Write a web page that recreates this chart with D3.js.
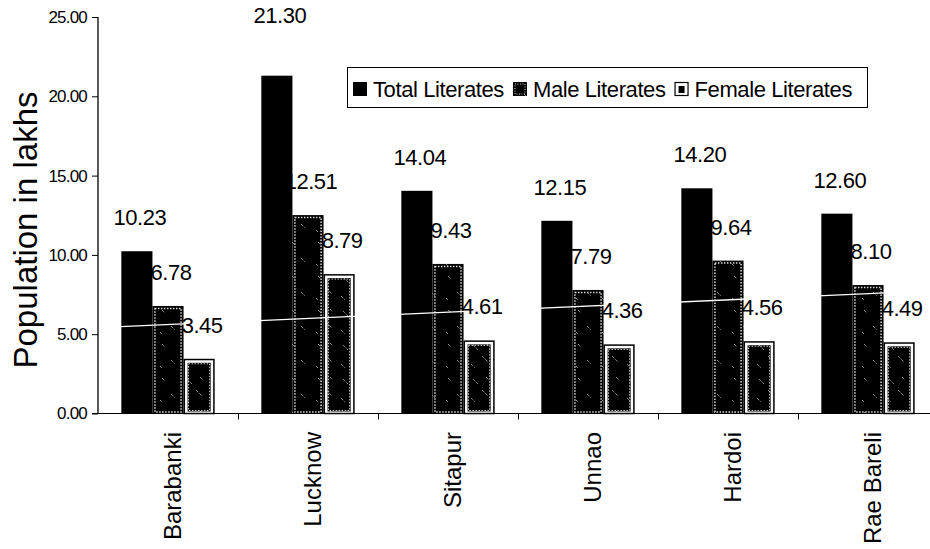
<!DOCTYPE html>
<html>
<head>
<meta charset="utf-8">
<script src="https://cdn.jsdelivr.net/npm/d3@7"></script>
<style>
  html, body { margin: 0; padding: 0; background: #fff; }
  svg { display: block; font-family: Arial, "Liberation Sans", sans-serif; }
</style>
</head>
<body>
<svg id="chart" width="930" height="549"></svg>
<script>
// Literate population by district (in lakhs)
const districts = ["Barabanki", "Lucknow", "Sitapur", "Unnao", "Hardoi", "Rae Bareli"];
const seriesNames = ["Total Literates", "Male Literates", "Female Literates"];
const totalLiterates  = [10.23, 21.30, 14.04, 12.15, 14.20, 12.60];
const maleLiterates   = [6.78, 12.51, 9.43, 7.79, 9.64, 8.10];
const femaleLiterates = [3.45, 8.79, 4.61, 4.36, 4.56, 4.49];
const yTicks = [0, 5, 10, 15, 20, 25];
// linear trend line: value at the first and at the last district
const trendline = [5.52, 7.47];

const seriesValues = [totalLiterates, maleLiterates, femaleLiterates];

const svg = d3.select("#chart");
const W = 930, H = 549;
const plot = { left: 98, right: 938, top: 17, bottom: 413.5 };

const x = d3.scaleBand().domain(districts).range([plot.left, plot.right]).paddingInner(0).paddingOuter(0);
const xs = d3.scaleBand().domain(seriesNames).range([0, x.bandwidth()]).paddingInner(0).paddingOuter(0.75);
const y = d3.scaleLinear().domain([0, 25]).range([plot.bottom, plot.top]);

// textures for the male and female bars
const defs = svg.append("defs");
function texture(id, marks) {
  const p = defs.append("pattern").attr("id", id).attr("patternUnits", "userSpaceOnUse")
    .attr("width", 26).attr("height", 34);
  p.append("rect").attr("width", 26).attr("height", 34).attr("fill", "#000");
  marks.forEach(m => p.append("line")
    .attr("x1", m[0]).attr("y1", m[1]).attr("x2", m[2]).attr("y2", m[3])
    .attr("stroke", "#bbb").attr("stroke-width", 1).attr("stroke-dasharray", "1,1"));
  return p;
}
texture("maleTex", [[6, 4, 9, 7], [15, 20, 19, 24], [4, 26, 6, 28]]);
texture("femaleTex", [[5, 5, 10, 10], [14, 16, 20, 22], [3, 24, 7, 28], [18, 3, 21, 6]]);

defs.append("clipPath").attr("id", "plotClip")
  .append("rect").attr("x", plot.left).attr("y", plot.top).attr("width", W - plot.left).attr("height", plot.bottom - plot.top);

// bars
const rows = [];
districts.forEach((d, i) => seriesNames.forEach((s, j) => rows.push({ d, s, j, v: seriesValues[j][i] })));

const gBars = svg.append("g");
rows.forEach(r => {
  const bx = x(r.d) + xs(r.s), bw = xs.bandwidth();
  const by = y(r.v), bh = y(0) - y(r.v);
  if (r.j === 0) {
    gBars.append("rect").attr("x", bx).attr("y", by).attr("width", bw).attr("height", bh).attr("fill", "#000");
  } else if (r.j === 1) {
    gBars.append("rect").attr("x", bx).attr("y", by).attr("width", bw).attr("height", bh).attr("fill", "url(#maleTex)");
    gBars.append("rect").attr("x", bx + 2.5).attr("y", by + 2.5).attr("width", bw - 5).attr("height", bh - 4)
      .attr("fill", "none").attr("stroke", "#d8d8d8").attr("stroke-width", 1.5).attr("stroke-dasharray", "1.5,1.5");
  } else {
    gBars.append("rect").attr("x", bx + 0.75).attr("y", by + 0.75).attr("width", bw - 1.5).attr("height", bh - 0.75)
      .attr("fill", "#fff").attr("stroke", "#000").attr("stroke-width", 1.5);
    gBars.append("rect").attr("x", bx + 4).attr("y", by + 4).attr("width", bw - 8).attr("height", bh - 6)
      .attr("fill", "url(#femaleTex)");
    gBars.append("rect").attr("x", bx + 5).attr("y", by + 5).attr("width", bw - 10).attr("height", bh - 8)
      .attr("fill", "none").attr("stroke", "#cfcfcf").attr("stroke-width", 1).attr("stroke-dasharray", "1.5,1.5");
  }
});

// white trend line across the plot
const tx0 = x(districts[0]) + xs(seriesNames[0]) + xs.bandwidth() / 2;
const tx1 = x(districts[districts.length - 1]) + xs(seriesNames[0]) + xs.bandwidth() / 2;
const ty0 = y(trendline[0]), ty1 = y(trendline[1]);
const slope = (ty1 - ty0) / (tx1 - tx0);
svg.append("line").attr("clip-path", "url(#plotClip)")
  .attr("x1", plot.left).attr("y1", ty0 + slope * (plot.left - tx0))
  .attr("x2", W).attr("y2", ty0 + slope * (W - tx0))
  .attr("stroke", "#fff").attr("stroke-width", 1.3);

// value labels
const labelLift = { "Lucknow|Total Literates": 27 };
rows.forEach(r => {
  const cx = x(r.d) + xs(r.s) + xs.bandwidth() / 2 + 3;
  const lift = labelLift[r.d + "|" + r.s] || 0;
  svg.append("text").attr("x", cx).attr("y", y(r.v) - 26 - lift)
    .attr("text-anchor", "middle").attr("font-size", 22).attr("letter-spacing", -0.5)
    .attr("fill", "#000").text(r.v.toFixed(2));
});

// y axis
const yAxis = d3.axisLeft(y).tickValues(yTicks).tickFormat(d3.format(".2f")).tickSize(6).tickPadding(5);
const gy = svg.append("g").attr("transform", `translate(${plot.left},0)`).call(yAxis);
gy.select(".domain").attr("stroke", "#000").attr("stroke-width", 1.3).attr("d", `M0,${plot.top}V${plot.bottom}`);
gy.selectAll(".tick line").attr("stroke", "#000");
gy.selectAll(".tick text").attr("font-size", 17).attr("letter-spacing", -0.8)
  .attr("font-family", "Arial, 'Liberation Sans', sans-serif").attr("fill", "#000");

// x axis: baseline with ticks at district boundaries
svg.append("line").attr("x1", plot.left - 6).attr("x2", W).attr("y1", plot.bottom).attr("y2", plot.bottom)
  .attr("stroke", "#000").attr("stroke-width", 1.2);
districts.slice(1).forEach(d => {
  svg.append("line").attr("x1", Math.round(x(d)) + 0.5).attr("x2", Math.round(x(d)) + 0.5)
    .attr("y1", plot.bottom).attr("y2", plot.bottom + 6).attr("stroke", "#000");
});

// district names, rotated
districts.forEach(d => {
  const cx = x(d) + x.bandwidth() / 2 + 13;
  svg.append("text").attr("transform", `translate(${cx},432) rotate(-90)`)
    .attr("text-anchor", "end").attr("font-size", 24).attr("fill", "#000").text(d);
});

// y axis title
svg.append("text").attr("transform", "translate(37,230) rotate(-90)")
  .attr("text-anchor", "middle").attr("font-size", 33).attr("fill", "#000").text("Population in lakhs");

// legend
const lg = svg.append("g");
lg.append("rect").attr("x", 347.5).attr("y", 67.5).attr("width", 520).attr("height", 40)
  .attr("fill", "#fff").attr("stroke", "#000").attr("stroke-width", 1);
let lx = 353;
seriesNames.forEach((s, j) => {
  const sy = 82, sz = 14;
  if (j === 0) {
    lg.append("rect").attr("x", lx).attr("y", sy).attr("width", sz).attr("height", sz).attr("fill", "#000");
  } else if (j === 1) {
    lg.append("rect").attr("x", lx).attr("y", sy).attr("width", sz).attr("height", sz).attr("fill", "url(#maleTex)");
    lg.append("rect").attr("x", lx + 2).attr("y", sy + 2).attr("width", sz - 4).attr("height", sz - 4)
      .attr("fill", "none").attr("stroke", "#ccc").attr("stroke-width", 1).attr("stroke-dasharray", "1,1.5");
  } else {
    lg.append("rect").attr("x", lx + 0.5).attr("y", sy + 0.5).attr("width", sz - 1).attr("height", sz - 1)
      .attr("fill", "#fff").attr("stroke", "#000").attr("stroke-width", 1.2);
    lg.append("rect").attr("x", lx + 4).attr("y", sy + 4).attr("width", sz - 8).attr("height", sz - 7).attr("fill", "#000");
  }
  const t = lg.append("text").attr("x", lx + 20).attr("y", 97).attr("font-size", 22)
    .attr("letter-spacing", -0.4).attr("fill", "#000").text(s);
  lx = lx + 20 + t.node().getComputedTextLength() + 9;
});
</script>
</body>
</html>
